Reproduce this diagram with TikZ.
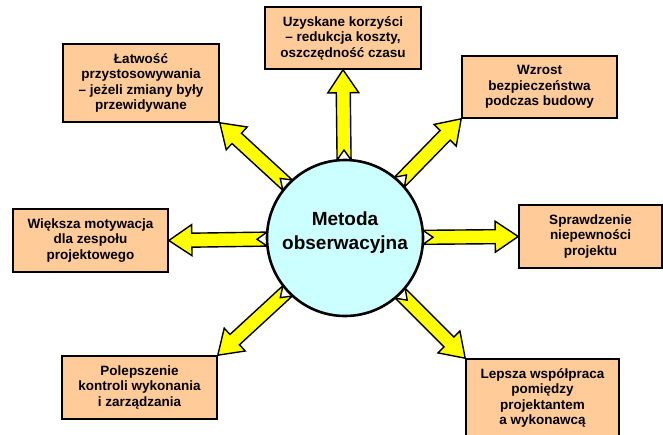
\documentclass[tikz,border=0pt]{standalone}
\usepackage{fontspec}
\setmainfont{Liberation Sans}
\usetikzlibrary{calc}

\definecolor{boxfill}{HTML}{FFCC99}
\definecolor{hubfill}{HTML}{CCFFFF}
\definecolor{arrowfill}{HTML}{FFFF00}

\begin{document}
\begin{tikzpicture}[x=1pt,y=-1pt,
    box/.style={draw,line width=1.6pt,fill=boxfill,align=center,inner sep=0pt,
      font=\fontsize{13.5}{15.5}\selectfont\bfseries},
    hub/.style={circle,draw,line width=2.6pt,fill=hubfill,minimum size=156pt,inner sep=0pt},
    fatarrow/.style={draw,line width=1.4pt,fill=arrowfill}]
    \useasboundingbox (0,0) rectangle (663,435);
    % boxes
    \node[box,minimum width=156pt,minimum height=62pt] (korzysci) at (343,38)
      {Uzyskane korzyści\\– redukcja koszty,\\oszczędność czasu};
    \node[box,minimum width=156pt,minimum height=78pt] (latwosc) at (141,83)
      {Łatwość\\przystosowywania\\– jeżeli zmiany były\\przewidywane};
    \node[box,minimum width=155pt,minimum height=62pt] (bezp) at (539.5,87)
      {Wzrost\\bezpieczeństwa\\podczas budowy};
    \node[box,minimum width=155pt,minimum height=63pt] (motywacja) at (90.5,240.5)
      {Większa motywacja\\dla zespołu\\projektowego};
    \node[box,minimum width=143pt,minimum height=63pt] (niepewnosc) at (590.5,236.5)
      {Sprawdzenie\\niepewności\\projektu};
    \node[box,minimum width=155pt,minimum height=63pt] (kontrola) at (139.5,387.5)
      {Polepszenie\\kontroli wykonania\\i zarządzania};
    \node[box,minimum width=153pt,minimum height=78pt] (wspolpraca) at (542.5,398)
      {Lepsza współpraca\\pomiędzy\\projektantem\\a wykonawcą};
    % arrows from the hub
    \coordinate (c) at (345,238);
    \foreach \anc in {korzysci.south, latwosc.south east, bezp.south west, motywacja.east,
        niepewnosc.west, kontrola.north east, wspolpraca.north west}
      \draw[fatarrow] let \p1=(c), \p2=(\anc), \n1={atan2(\y2-\y1,\x2-\x1)},
          \n2={veclen(\x2-\x1,\y2-\y1)} in
        {[shift={(\p1)},rotate=\n1]
        (78,-7) -- ({\n2-23},-7) -- ({\n2-23},-15.5) -- (\n2,0) -- ({\n2-23},15.5)
        -- ({\n2-23},7) -- (78,7) -- (88,0) -- cycle};
    % hub
    \node[hub] (metoda) at (c) {};
    \node[font=\fontsize{19}{24}\selectfont\bfseries,align=center] (metodatxt)
      at ($(metoda.center)+(0,-5)$) {Metoda\\obserwacyjna};
  \end{tikzpicture}
\end{document}
